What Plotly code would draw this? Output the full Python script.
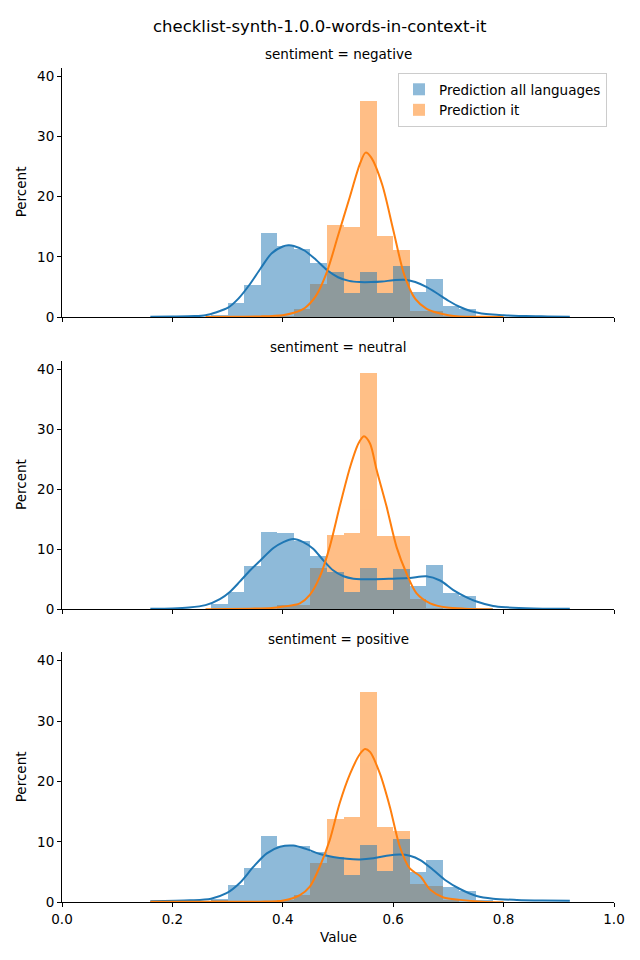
import plotly.graph_objects as go

# ---------------- data ----------------
bin_left = [0.27, 0.30, 0.33, 0.36, 0.39, 0.42, 0.45, 0.48, 0.51, 0.54,
            0.57, 0.60, 0.63, 0.66, 0.69, 0.72, 0.75]
bin_width = 0.03

panels = ["sentiment = negative", "sentiment = neutral", "sentiment = positive"]
series_names = ["Prediction all languages", "Prediction it"]

neg_all = [0.4, 2.3, 5.3, 14.0, 11.9, 11.4, 9.1, 7.5, 4.0, 7.5, 4.0, 8.5, 4.2, 6.3, 1.8, 1.4, 0.2]
neg_it = [0.0, 0.0, 0.0, 0.0, 0.2, 1.3, 5.6, 15.3, 15.0, 35.9, 13.5, 11.1, 1.0, 1.0, 0.2, 0.0, 0.0]
neu_all = [0.9, 2.9, 7.2, 12.9, 12.7, 11.4, 8.9, 6.2, 3.0, 7.0, 3.2, 6.7, 3.9, 7.4, 2.7, 2.2, 0.3]
neu_it = [0.0, 0.0, 0.0, 0.0, 0.8, 0.8, 7.0, 12.4, 12.7, 39.4, 12.2, 12.2, 1.7, 0.3, 0.0, 0.0, 0.0]
pos_all = [0.5, 2.8, 5.7, 11.0, 9.3, 9.3, 8.2, 7.5, 4.5, 9.5, 5.2, 10.5, 4.9, 7.0, 2.5, 1.9, 0.3]
pos_it = [0.2, 0.0, 0.0, 0.0, 0.2, 1.2, 6.5, 13.8, 14.0, 34.7, 12.5, 11.8, 2.9, 2.7, 0.3, 0.0, 0.0]

# KDE curves
neg_kde_all_x = [0.16, 0.20, 0.24, 0.26, 0.28, 0.30, 0.32, 0.34, 0.36, 0.38, 0.40, 0.41, 0.42, 0.44,
                 0.46, 0.48, 0.50, 0.52, 0.54, 0.56, 0.58, 0.60, 0.62, 0.64, 0.66, 0.68, 0.70,
                 0.72, 0.74, 0.76, 0.78, 0.80, 0.84, 0.88, 0.92]
neg_kde_all_y = [0.05, 0.08, 0.15, 0.3, 0.8, 1.5, 3.1, 5.4, 8.1, 10.6, 11.7, 11.9, 11.8, 11.0,
                 9.5, 7.8, 6.6, 6.0, 5.8, 5.8, 5.9, 6.1, 6.2, 5.8, 5.0, 3.9, 2.7,
                 1.7, 1.0, 0.6, 0.4, 0.3, 0.15, 0.1, 0.05]
neg_kde_it_x = [0.26, 0.32, 0.36, 0.40, 0.42, 0.44, 0.46, 0.48, 0.50, 0.52, 0.54, 0.55, 0.56,
                0.58, 0.60, 0.62, 0.64, 0.66, 0.68, 0.70, 0.72, 0.76, 0.80]
neg_kde_it_y = [0.0, 0.05, 0.1, 0.3, 0.7, 1.5, 3.5, 7.5, 13.5, 19.5, 25.5, 27.3, 26.5,
                22.0, 14.5, 7.0, 3.0, 1.4, 0.7, 0.3, 0.1, 0.03, 0.0]

neu_kde_all_x = [0.16, 0.20, 0.23, 0.26, 0.286, 0.304, 0.322, 0.341, 0.359, 0.383, 0.401, 0.419,
                 0.437, 0.455, 0.473, 0.491, 0.51, 0.528, 0.564, 0.60, 0.63, 0.66, 0.685, 0.709,
                 0.733, 0.751, 0.781, 0.805, 0.854, 0.92]
neu_kde_all_y = [0.1, 0.15, 0.3, 0.7, 1.7, 2.9, 4.6, 6.5, 8.1, 10.2, 11.2, 11.7,
                 11.2, 10.1, 8.2, 6.5, 5.5, 5.1, 5.0, 5.1, 5.2, 5.5, 4.8, 3.2,
                 2.0, 1.3, 0.55, 0.33, 0.15, 0.08]
neu_kde_it_x = [0.26, 0.34, 0.38, 0.401, 0.431, 0.449, 0.467, 0.485, 0.503, 0.522, 0.537, 0.547,
                0.558, 0.570, 0.588, 0.606, 0.624, 0.642, 0.667, 0.697, 0.73, 0.78]
neu_kde_it_y = [0.0, 0.1, 0.2, 0.45, 1.0, 2.4, 5.4, 10.4, 17.1, 23.7, 27.6, 28.8,
                27.6, 23.2, 17.1, 10.4, 6.0, 2.7, 1.0, 0.3, 0.1, 0.0]

pos_kde_all_x = [0.16, 0.232, 0.27, 0.298, 0.322, 0.347, 0.371, 0.395, 0.419, 0.443, 0.467, 0.491,
                 0.516, 0.540, 0.564, 0.588, 0.612, 0.630, 0.649, 0.672, 0.694, 0.721, 0.751,
                 0.781, 0.824, 0.87, 0.92]
pos_kde_all_y = [0.17, 0.33, 0.6, 1.5, 3.2, 5.9, 8.1, 9.2, 9.4, 8.8, 8.0, 7.5,
                 7.2, 7.1, 7.3, 7.7, 7.9, 7.7, 7.0, 5.4, 3.7, 2.2, 1.05,
                 0.6, 0.4, 0.3, 0.25]
pos_kde_it_x = [0.16, 0.27, 0.36, 0.401, 0.431, 0.449, 0.467, 0.485, 0.503, 0.522, 0.540, 0.549,
                0.558, 0.576, 0.594, 0.612, 0.630, 0.649, 0.667, 0.691, 0.721, 0.76, 0.80]
pos_kde_it_y = [0.1, 0.1, 0.1, 0.3, 1.2, 2.6, 5.9, 10.3, 16.4, 21.3, 24.6, 25.4,
                24.9, 21.3, 15.8, 9.2, 5.6, 4.3, 2.1, 0.8, 0.4, 0.1, 0.0]

x_ticks = [0.0, 0.2, 0.4, 0.6, 0.8, 1.0]
y_ticks = [0, 10, 20, 30, 40]

hist_all = [neg_all, neu_all, pos_all]
hist_it = [neg_it, neu_it, pos_it]
kde_all = [(neg_kde_all_x, neg_kde_all_y), (neu_kde_all_x, neu_kde_all_y), (pos_kde_all_x, pos_kde_all_y)]
kde_it = [(neg_kde_it_x, neg_kde_it_y), (neu_kde_it_x, neu_kde_it_y), (pos_kde_it_x, pos_kde_it_y)]

# ---------------- styling / layout ----------------
W, H = 640, 960
OFF = 8  # page body margin offset in the browser
BLUE = "#1f77b4"
ORANGE = "#ff7f0e"
FONT = "DejaVu Sans"
x_px = (62 - OFF, 614 - OFF)
y_px = [(67.7 - OFF, 317.0 - OFF), (360.7 - OFF, 609.3 - OFF), (652.3 - OFF, 902.3 - OFF)]

centers = [b + bin_width / 2 for b in bin_left]

fig = go.Figure()
for i in range(3):
    ax = "" if i == 0 else str(i + 1)
    # orange drawn first, blue layered on top (gives the grey overlap)
    fig.add_trace(go.Bar(x=centers, y=hist_it[i], width=bin_width, name=series_names[1],
                         marker=dict(color=ORANGE, line=dict(width=0)), opacity=0.5,
                         xaxis="x" + ax, yaxis="y" + ax, showlegend=(i == 0),
                         legendgroup="it", legendrank=2))
    fig.add_trace(go.Bar(x=centers, y=hist_all[i], width=bin_width, name=series_names[0],
                         marker=dict(color=BLUE, line=dict(width=0)), opacity=0.5,
                         xaxis="x" + ax, yaxis="y" + ax, showlegend=(i == 0),
                         legendgroup="all", legendrank=1))
    fig.add_trace(go.Scatter(x=kde_all[i][0], y=kde_all[i][1], mode="lines",
                             line=dict(color=BLUE, width=2, shape="spline", smoothing=0.8),
                             xaxis="x" + ax, yaxis="y" + ax, showlegend=False))
    fig.add_trace(go.Scatter(x=kde_it[i][0], y=kde_it[i][1], mode="lines",
                             line=dict(color=ORANGE, width=2, shape="spline", smoothing=0.8),
                             xaxis="x" + ax, yaxis="y" + ax, showlegend=False))

layout = dict(
    width=W, height=H,
    margin=dict(l=0, r=0, t=0, b=0, pad=0, autoexpand=False),
    paper_bgcolor="white", plot_bgcolor="white",
    barmode="overlay", bargap=0,
    font=dict(family=FONT, size=13.5, color="black"),
    showlegend=True,
    legend=dict(x=(607 - OFF) / W, y=1 - (73 - OFF) / H, xanchor="right", yanchor="top",
                bgcolor="rgba(255,255,255,0.8)", bordercolor="#cccccc", borderwidth=1,
                font=dict(family=FONT, size=13.5), tracegroupgap=0,
                itemsizing="constant", traceorder="normal"),
)
axis_common = dict(showline=True, linecolor="black", linewidth=1, ticks="outside",
                   ticklen=4, tickwidth=1, tickcolor="black", showgrid=False,
                   zeroline=False, fixedrange=True, automargin=False)
for i in range(3):
    ax = "" if i == 0 else str(i + 1)
    top, bot = y_px[i]
    layout["xaxis" + ax] = dict(axis_common, domain=[x_px[0] / W, x_px[1] / W], range=[0, 1],
                                 tickvals=x_ticks, ticktext=[f"{v:.1f}" for v in x_ticks],
                                 showticklabels=(i == 2), anchor="y" + ax)
    layout["yaxis" + ax] = dict(axis_common, domain=[1 - bot / H, 1 - top / H], range=[0, 41.4],
                                 tickvals=y_ticks, anchor="x" + ax)
fig.update_layout(**layout)

annotations = [
    dict(text="checklist-synth-1.0.0-words-in-context-it", x=(320 - OFF) / W, y=1 - (27 - OFF) / H,
         font=dict(size=16.5, family=FONT)),
    dict(text="Value", x=(338 - OFF) / W, y=1 - (937 - OFF) / H, font=dict(size=13.5, family=FONT)),
]
sub_y = [54, 347, 639]
for i in range(3):
    annotations.append(dict(text=panels[i], x=(338 - OFF) / W, y=1 - (sub_y[i] - OFF) / H,
                            font=dict(size=13.5, family=FONT)))
    top, bot = y_px[i]
    annotations.append(dict(text="Percent", x=(21 - OFF) / W, y=1 - (top + bot) / 2 / H,
                            textangle=-90, font=dict(size=13.5, family=FONT)))
for a in annotations:
    a.update(xref="paper", yref="paper", showarrow=False, xanchor="center", yanchor="middle")
fig.update_layout(annotations=annotations)

fig.write_html("out.html")
